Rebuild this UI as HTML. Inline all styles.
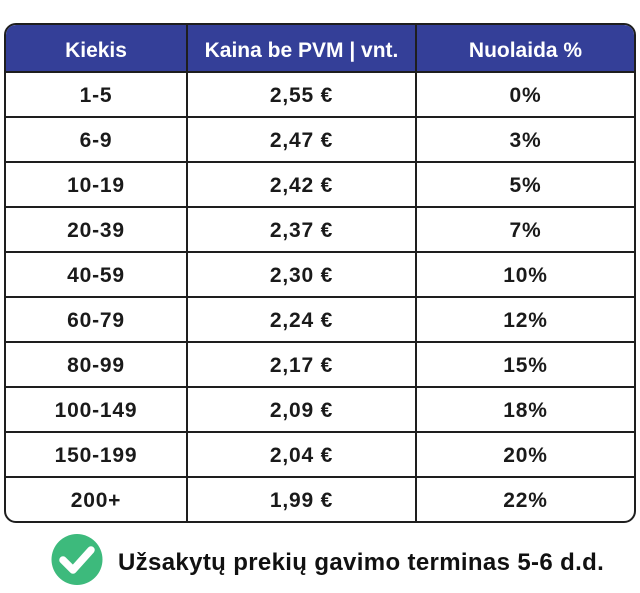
<!DOCTYPE html>
<html>
<head>
<meta charset="utf-8">
<style>
  html, body { margin:0; padding:0; }
  body { width:640px; height:593px; background:#ffffff; position:relative; overflow:hidden;
         font-family:"Liberation Sans", Arial, sans-serif; }
  .box { position:absolute; left:4px; top:23px; width:628px; height:496px;
         border:2px solid #1e1e1e; border-radius:12px; overflow:hidden; background:#fff; }
  .hdr { position:absolute; left:0; top:0; width:100%; height:48px; background:#343f98; }
  .hl { position:absolute; left:0; width:100%; height:2px; background:#1e1e1e; }
  .vl { position:absolute; top:0; width:2px; height:100%; background:#1e1e1e; }
  .cell { position:absolute; text-align:center; font-weight:bold; color:#1a1a1a;
          font-size:21px; letter-spacing:0.8px; white-space:nowrap; }
  .hcell { position:absolute; text-align:center; font-weight:bold; color:#ffffff;
           font-size:21px; white-space:nowrap; line-height:48px; top:2px; }
  .foot { position:absolute; left:118px; top:551px; font-weight:bold; font-size:24px;
          line-height:24px; letter-spacing:0.35px; color:#111; white-space:nowrap; }
</style>
</head>
<body>
<div class="box">
  <div class="hdr"></div>
  <!-- horizontal lines (box inner origin at x=6,y=25) -->
  <div class="hl" style="top:46px"></div>
  <div class="hl" style="top:91px"></div>
  <div class="hl" style="top:136px"></div>
  <div class="hl" style="top:181px"></div>
  <div class="hl" style="top:226px"></div>
  <div class="hl" style="top:271px"></div>
  <div class="hl" style="top:316px"></div>
  <div class="hl" style="top:361px"></div>
  <div class="hl" style="top:406px"></div>
  <div class="hl" style="top:451px"></div>
  <div class="vl" style="left:180px"></div>
  <div class="vl" style="left:409px"></div>

  <div class="hcell" style="left:0;width:180px">Kiekis</div>
  <div class="hcell" style="left:182px;width:227px">Kaina be PVM | vnt.</div>
  <div class="hcell" style="left:411px;width:217px">Nuolaida %</div>
</div>

<div id="rows"></div>

<div style="position:absolute;left:0;top:0;width:640px;height:593px;">
  <!-- Row 1 -->
  <div class="cell" style="left:6px;width:180px;top:73px;line-height:45px">1-5</div>
  <div class="cell" style="left:188px;width:227px;top:73px;line-height:45px">2,55 €</div>
  <div class="cell" style="left:417px;width:217px;top:73px;line-height:45px">0%</div>

  <div class="cell" style="left:6px;width:180px;top:118px;line-height:45px">6-9</div>
  <div class="cell" style="left:188px;width:227px;top:118px;line-height:45px">2,47 €</div>
  <div class="cell" style="left:417px;width:217px;top:118px;line-height:45px">3%</div>

  <div class="cell" style="left:6px;width:180px;top:163px;line-height:45px">10-19</div>
  <div class="cell" style="left:188px;width:227px;top:163px;line-height:45px">2,42 €</div>
  <div class="cell" style="left:417px;width:217px;top:163px;line-height:45px">5%</div>

  <div class="cell" style="left:6px;width:180px;top:208px;line-height:45px">20-39</div>
  <div class="cell" style="left:188px;width:227px;top:208px;line-height:45px">2,37 €</div>
  <div class="cell" style="left:417px;width:217px;top:208px;line-height:45px">7%</div>

  <div class="cell" style="left:6px;width:180px;top:253px;line-height:45px">40-59</div>
  <div class="cell" style="left:188px;width:227px;top:253px;line-height:45px">2,30 €</div>
  <div class="cell" style="left:417px;width:217px;top:253px;line-height:45px">10%</div>

  <div class="cell" style="left:6px;width:180px;top:298px;line-height:45px">60-79</div>
  <div class="cell" style="left:188px;width:227px;top:298px;line-height:45px">2,24 €</div>
  <div class="cell" style="left:417px;width:217px;top:298px;line-height:45px">12%</div>

  <div class="cell" style="left:6px;width:180px;top:343px;line-height:45px">80-99</div>
  <div class="cell" style="left:188px;width:227px;top:343px;line-height:45px">2,17 €</div>
  <div class="cell" style="left:417px;width:217px;top:343px;line-height:45px">15%</div>

  <div class="cell" style="left:6px;width:180px;top:388px;line-height:45px">100-149</div>
  <div class="cell" style="left:188px;width:227px;top:388px;line-height:45px">2,09 €</div>
  <div class="cell" style="left:417px;width:217px;top:388px;line-height:45px">18%</div>

  <div class="cell" style="left:6px;width:180px;top:433px;line-height:45px">150-199</div>
  <div class="cell" style="left:188px;width:227px;top:433px;line-height:45px">2,04 €</div>
  <div class="cell" style="left:417px;width:217px;top:433px;line-height:45px">20%</div>

  <div class="cell" style="left:6px;width:180px;top:478px;line-height:45px">200+</div>
  <div class="cell" style="left:188px;width:227px;top:478px;line-height:45px">1,99 €</div>
  <div class="cell" style="left:417px;width:217px;top:478px;line-height:45px">22%</div>
</div>

<svg style="position:absolute;left:0;top:0" width="640" height="593">
  <circle cx="77" cy="559.5" r="25.5" fill="#3dba7c"/>
  <polyline points="63,560 73,570 91,550" fill="none" stroke="#ffffff" stroke-width="7.5" stroke-linecap="round" stroke-linejoin="round"/>
</svg>

<div class="foot">Užsakytų prekių gavimo terminas 5-6 d.d.</div>
</body>
</html>
